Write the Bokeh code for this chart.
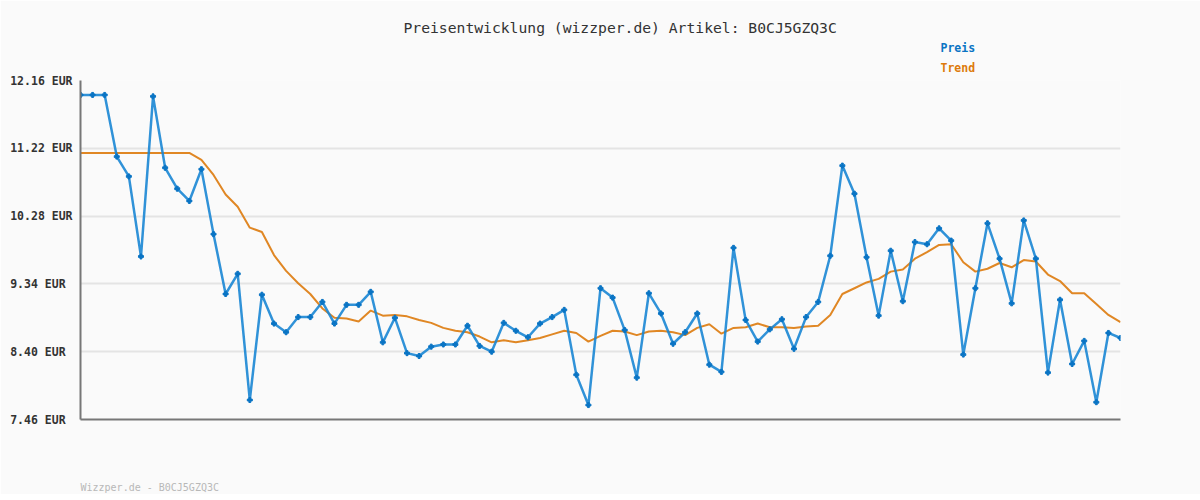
from bokeh.plotting import figure
from bokeh.models import Range1d, FixedTicker, CustomJSTickFormatter, Title, ColumnDataSource
from bokeh.embed import file_html
from bokeh.resources import INLINE

title_text = "Preisentwicklung (wizzper.de) Artikel: B0CJ5GZQ3C"
footer_text = "Wizzper.de - B0CJ5GZQ3C"
series_names = ["Preis", "Trend"]
y_ticks = [7.46, 8.40, 9.34, 10.28, 11.22, 12.16]

preis = [11.96, 11.96, 11.96, 11.105, 10.83, 9.72, 11.94, 10.95, 10.66, 10.49,
         10.93, 10.03, 9.20, 9.48, 7.73, 9.19, 8.79, 8.67, 8.88, 8.88,
         9.09, 8.79, 9.05, 9.05, 9.23, 8.53, 8.87, 8.38, 8.34, 8.47,
         8.50, 8.50, 8.76, 8.48, 8.40, 8.80, 8.69, 8.60, 8.79, 8.88,
         8.98, 8.08, 7.66, 9.28, 9.15, 8.70, 8.04, 9.21, 8.93, 8.51,
         8.67, 8.93, 8.22, 8.12, 9.84, 8.84, 8.54, 8.71, 8.85, 8.44,
         8.88, 9.09, 9.73, 10.98, 10.59, 9.71, 8.90, 9.80, 9.10, 9.92,
         9.89, 10.11, 9.94, 8.36, 9.28, 10.18, 9.69, 9.07, 10.22, 9.69,
         8.11, 9.12, 8.23, 8.55, 7.70, 8.66, 8.59]

trend = [11.155, 11.155, 11.155, 11.155, 11.155, 11.155, 11.155, 11.155, 11.155, 11.155,
         11.06, 10.85, 10.58, 10.41, 10.12, 10.06, 9.74, 9.52, 9.35, 9.20,
         9.00, 8.87, 8.86, 8.82, 8.97, 8.90, 8.91, 8.89, 8.84, 8.80,
         8.73, 8.69, 8.67, 8.61, 8.53, 8.56, 8.53, 8.56, 8.59, 8.64,
         8.69, 8.66, 8.54, 8.62, 8.69, 8.68, 8.63, 8.68, 8.69, 8.67,
         8.63, 8.73, 8.78, 8.65, 8.73, 8.74, 8.79, 8.74, 8.74, 8.73,
         8.75, 8.76, 8.91, 9.20, 9.28, 9.36, 9.41, 9.51, 9.54, 9.69,
         9.78, 9.88, 9.89, 9.64, 9.51, 9.55, 9.63, 9.57, 9.67, 9.65,
         9.47, 9.38, 9.21, 9.21, 9.06, 8.91, 8.81]

idx = list(range(len(preis)))
src = ColumnDataSource(dict(x=idx, preis=preis, trend=trend))

BG = "#fafafa"
BLUE = "#0a74c4"
LINE_BLUE = "#1a86d4"
ORANGE = "#dd7a0c"
MONO = "DejaVu Sans Mono"

p = figure(frame_width=1040, frame_height=339, output_backend="svg", toolbar_location=None,
           x_range=Range1d(0, len(preis) - 1), y_range=Range1d(y_ticks[0], y_ticks[-1]),
           min_border_left=80, min_border_right=80, min_border_top=80, min_border_bottom=0,
           background_fill_color=BG, border_fill_color=BG, outline_line_color=None)
p.title.text = ""
p.title.visible = False

p.yaxis.ticker = FixedTicker(ticks=y_ticks)
p.yaxis.formatter = CustomJSTickFormatter(
    code="const s = tick.toFixed(2) + ' EUR'; return s.length < 9 ? s + '\\u00a0' : s;")
p.yaxis.major_label_text_font = MONO
p.yaxis.major_label_text_font_style = "bold"
p.yaxis.major_label_text_font_size = "11.5px"
p.yaxis.major_label_text_color = "#333333"
p.yaxis.major_label_standoff = 8
p.yaxis.major_tick_out = 0
p.yaxis.major_tick_in = 0
p.yaxis.major_tick_line_color = None
p.yaxis.minor_tick_line_color = None
p.yaxis.axis_line_color = "#777777"
p.yaxis.axis_line_width = 2

p.xaxis.ticker = FixedTicker(ticks=[])
p.xaxis.major_tick_out = 0
p.xaxis.major_tick_in = 0
p.xaxis.major_label_standoff = 0
p.xaxis.major_tick_line_color = None
p.xaxis.minor_tick_line_color = None
p.xaxis.major_label_text_font_size = "0px"
p.xaxis.axis_line_color = "#777777"
p.xaxis.axis_line_width = 2

p.xgrid.visible = False
p.ygrid.ticker = FixedTicker(ticks=y_ticks)
p.ygrid.grid_line_color = "#e4e4e4"
p.ygrid.grid_line_width = 2

p.line("x", "trend", source=src, line_color=ORANGE, line_width=2, line_alpha=0.9)
p.line("x", "preis", source=src, line_color=LINE_BLUE, line_width=2.5, line_alpha=0.9)
p.scatter("x", "preis", source=src, marker="plus", size=5, line_color=BLUE, fill_color=BLUE, line_width=1)

# header texts stacked above the frame (nearest first)
p.add_layout(Title(text=series_names[1], align="left", offset=860, vertical_align="top", standoff=6.5,
                   text_font=MONO, text_font_size="11.5px", text_font_style="bold",
                   text_color=ORANGE), "above")
p.add_layout(Title(text=series_names[0], align="left", offset=860, vertical_align="top", standoff=0.5,
                   text_font=MONO, text_font_size="11.5px", text_font_style="bold",
                   text_color=BLUE), "above")
p.add_layout(Title(text=title_text, align="left", offset=323, vertical_align="top", standoff=4.8,
                   text_font=MONO, text_font_size="14.7px", text_font_style="normal",
                   text_color="#333333"), "above")

# footer below the x axis, pushed down by a blank spacer
p.add_layout(Title(text=" ", align="left", vertical_align="top", standoff=49,
                   text_font=MONO, text_font_size="10px"), "below")
p.add_layout(Title(text=footer_text, align="left", offset=0, vertical_align="top", standoff=0,
                   text_font=MONO, text_font_size="10px", text_font_style="normal",
                   text_color="#b8b8b8"), "below")

open("out.html", "w").write(file_html(p, INLINE))
